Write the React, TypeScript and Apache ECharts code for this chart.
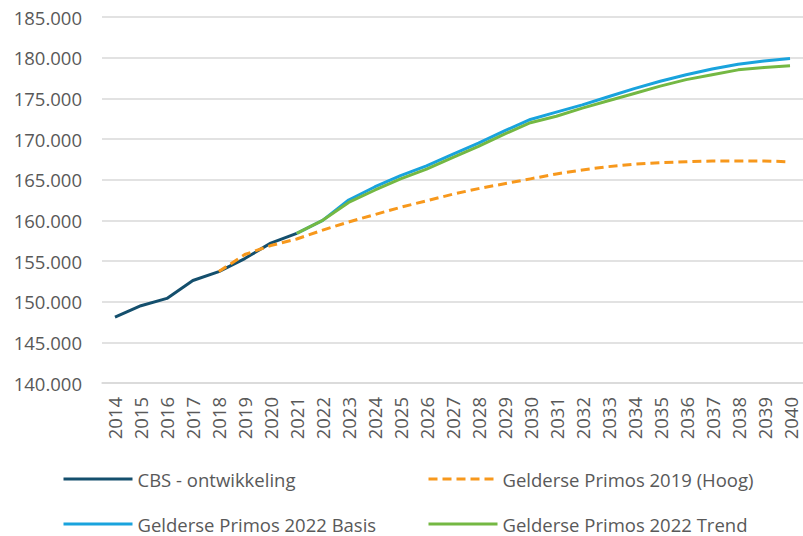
import React, { useEffect, useRef } from "react";
import * as echarts from "echarts";

const years = [
  "2014", "2015", "2016", "2017", "2018", "2019", "2020", "2021", "2022", "2023",
  "2024", "2025", "2026", "2027", "2028", "2029", "2030", "2031", "2032", "2033",
  "2034", "2035", "2036", "2037", "2038", "2039", "2040",
];

const cbs = [
  148100, 149500, 150400, 152600, 153700, 155300, 157200, 158400,
  null, null, null, null, null, null, null, null, null, null, null, null,
  null, null, null, null, null, null, null,
];

const primos2019Hoog = [
  null, null, null, null, 153700, 155800, 156900, 157700, 158800, 159800,
  160700, 161600, 162400, 163200, 163900, 164500, 165100, 165700, 166200, 166600,
  166900, 167100, 167200, 167300, 167300, 167300, 167200,
];

const primos2022Basis = [
  null, null, null, null, null, null, null, 158400, 160000, 162500,
  164100, 165500, 166700, 168100, 169500, 171000, 172400, 173300, 174200, 175200,
  176200, 177100, 177900, 178600, 179200, 179600, 179900,
];

const primos2022Trend = [
  null, null, null, null, null, null, null, 158400, 160000, 162200,
  163700, 165100, 166300, 167700, 169100, 170600, 172000, 172800, 173800, 174700,
  175600, 176500, 177300, 177900, 178500, 178800, 179000,
];

const legendNames = [
  "CBS - ontwikkeling",
  "Gelderse Primos 2019 (Hoog)",
  "Gelderse Primos 2022 Basis",
  "Gelderse Primos 2022 Trend",
];

const FONT = "'Open Sans', 'Noto Sans', sans-serif";
const TXT = "#595959";

function fmt(v: number): string {
  return String(Math.round(v)).replace(/\B(?=(\d{3})+(?!\d))/g, ".");
}

export default function App() {
  const ref = useRef<HTMLDivElement>(null);
  useEffect(() => {
    document.body.style.margin = "0";
    if (!ref.current) return;
    const chart = echarts.init(ref.current, null, { renderer: "svg" });
    const legendText = { color: TXT, fontFamily: FONT, fontSize: 18.5, lineHeight: 20 };
    const legendPos = [
      { left: 62, top: 469 },
      { left: 427, top: 469 },
      { left: 62, top: 514 },
      { left: 427, top: 514 },
    ];
    const legends = legendNames.map((name, i) => ({
      ...legendPos[i],
      orient: "horizontal",
      padding: 0,
      itemWidth: 69,
      itemHeight: 14,
      itemStyle: { opacity: 0 },
      lineStyle: { width: 3 },
      textStyle: legendText,
      data: [name],
    }));
    chart.setOption({
      animation: false,
      backgroundColor: "#ffffff",
      grid: { left: 102, right: -4, top: 17, bottom: 153, containLabel: false },
      legend: legends,
      xAxis: {
        type: "category",
        data: years,
        boundaryGap: true,
        axisLine: { show: true, lineStyle: { color: "#d9d9d9", width: 1.5 } },
        axisTick: { show: false },
        axisLabel: {
          rotate: 90,
          interval: 0,
          margin: 14,
          color: TXT,
          fontFamily: FONT,
          fontSize: 18.5,
        },
      },
      yAxis: {
        type: "value",
        min: 140000,
        max: 185000,
        interval: 5000,
        axisLine: { show: false },
        axisTick: { show: false },
        splitLine: { show: true, lineStyle: { color: "#d9d9d9", width: 1.5 } },
        axisLabel: {
          margin: 20,
          color: TXT,
          fontFamily: FONT,
          fontSize: 18.5,
          formatter: (v: number) => fmt(v),
        },
      },
      series: [
        {
          name: legendNames[0],
          type: "line",
          data: cbs,
          symbol: "none",
          lineStyle: { color: "#144f6d", width: 3 },
          itemStyle: { color: "#144f6d" },
        },
        {
          name: legendNames[1],
          type: "line",
          data: primos2019Hoog,
          symbol: "none",
          lineStyle: { color: "#f7981c", width: 3, type: [9, 5] },
          itemStyle: { color: "#f7981c" },
        },
        {
          name: legendNames[2],
          type: "line",
          data: primos2022Basis,
          symbol: "none",
          lineStyle: { color: "#19a3dd", width: 3 },
          itemStyle: { color: "#19a3dd" },
        },
        {
          name: legendNames[3],
          type: "line",
          data: primos2022Trend,
          symbol: "none",
          lineStyle: { color: "#74b843", width: 3 },
          itemStyle: { color: "#74b843" },
        },
      ],
    });
    return () => chart.dispose();
  }, []);
  return <div ref={ref} style={{ width: 803, height: 536 }} />;
}
